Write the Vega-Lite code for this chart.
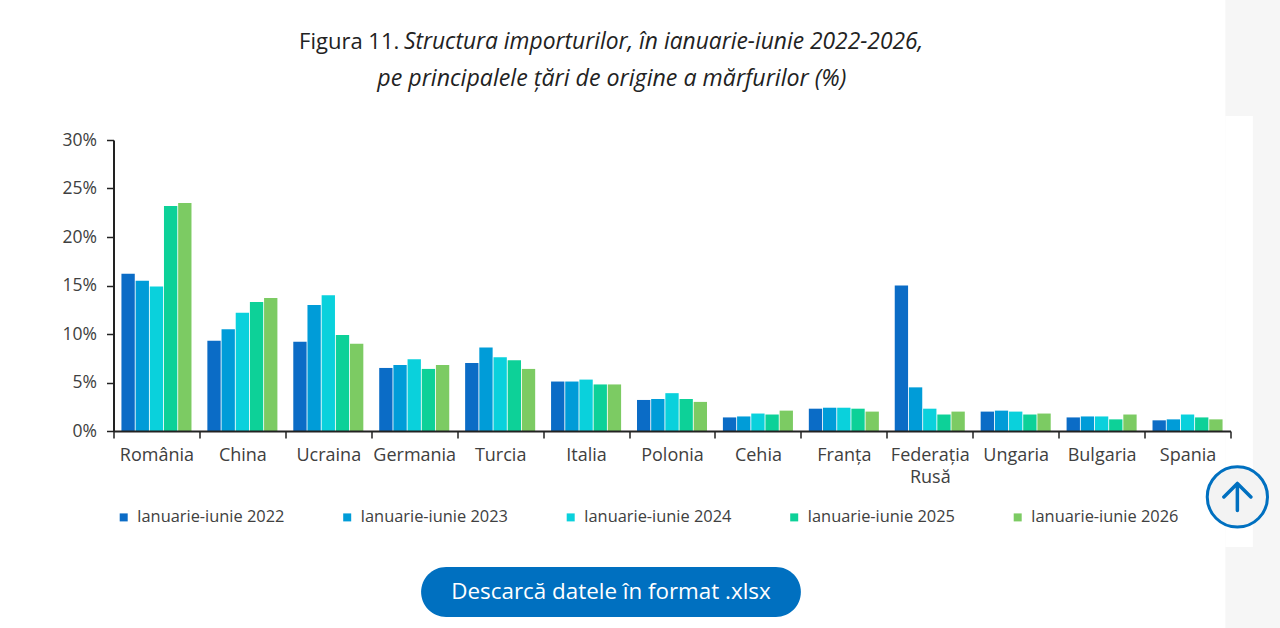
{
  "$schema": "https://vega.github.io/schema/vega-lite/v6.json",
  "background": "#ffffff",
  "width": 1117,
  "height": 291,
  "autosize": "none",
  "padding": {"left": 113.5, "top": 140, "right": 49.5, "bottom": 197},
  "config": {"font": "Open Sans", "view": {"stroke": null}},
  "resolve": {"scale": {"x": "independent"}},
  "layer": [
    {
      "data": {"values": [{}]},
      "mark": {"type": "rect", "color": "#f6f6f6"},
      "encoding": {
        "x": {"datum": 12.94, "type": "quantitative", "scale": {"domain": [0, 13], "nice": false, "zero": false}, "axis": null},
        "x2": {"datum": 13.58},
        "y": {"datum": 44.43, "type": "quantitative"},
        "y2": {"datum": -20.31}
      }
    },
    {
      "data": {"values": [{}]},
      "mark": {"type": "rect", "color": "#ffffff"},
      "encoding": {
        "x": {"datum": 12.94, "type": "quantitative", "scale": {"domain": [0, 13], "nice": false, "zero": false}, "axis": null},
        "x2": {"datum": 13.26},
        "y": {"datum": 32.47, "type": "quantitative"},
        "y2": {"datum": -11.96}
      }
    },
    {
      "data": {
        "values": [
          {"tara": "România", "an": "Ianuarie-iunie 2022", "pondere": 16.2},
          {"tara": "România", "an": "Ianuarie-iunie 2023", "pondere": 15.5},
          {"tara": "România", "an": "Ianuarie-iunie 2024", "pondere": 14.9},
          {"tara": "România", "an": "Ianuarie-iunie 2025", "pondere": 23.2},
          {"tara": "România", "an": "Ianuarie-iunie 2026", "pondere": 23.5},
          {"tara": "China", "an": "Ianuarie-iunie 2022", "pondere": 9.3},
          {"tara": "China", "an": "Ianuarie-iunie 2023", "pondere": 10.5},
          {"tara": "China", "an": "Ianuarie-iunie 2024", "pondere": 12.2},
          {"tara": "China", "an": "Ianuarie-iunie 2025", "pondere": 13.3},
          {"tara": "China", "an": "Ianuarie-iunie 2026", "pondere": 13.7},
          {"tara": "Ucraina", "an": "Ianuarie-iunie 2022", "pondere": 9.2},
          {"tara": "Ucraina", "an": "Ianuarie-iunie 2023", "pondere": 13.0},
          {"tara": "Ucraina", "an": "Ianuarie-iunie 2024", "pondere": 14.0},
          {"tara": "Ucraina", "an": "Ianuarie-iunie 2025", "pondere": 9.9},
          {"tara": "Ucraina", "an": "Ianuarie-iunie 2026", "pondere": 9.0},
          {"tara": "Germania", "an": "Ianuarie-iunie 2022", "pondere": 6.5},
          {"tara": "Germania", "an": "Ianuarie-iunie 2023", "pondere": 6.8},
          {"tara": "Germania", "an": "Ianuarie-iunie 2024", "pondere": 7.4},
          {"tara": "Germania", "an": "Ianuarie-iunie 2025", "pondere": 6.4},
          {"tara": "Germania", "an": "Ianuarie-iunie 2026", "pondere": 6.8},
          {"tara": "Turcia", "an": "Ianuarie-iunie 2022", "pondere": 7.0},
          {"tara": "Turcia", "an": "Ianuarie-iunie 2023", "pondere": 8.6},
          {"tara": "Turcia", "an": "Ianuarie-iunie 2024", "pondere": 7.6},
          {"tara": "Turcia", "an": "Ianuarie-iunie 2025", "pondere": 7.3},
          {"tara": "Turcia", "an": "Ianuarie-iunie 2026", "pondere": 6.4},
          {"tara": "Italia", "an": "Ianuarie-iunie 2022", "pondere": 5.1},
          {"tara": "Italia", "an": "Ianuarie-iunie 2023", "pondere": 5.1},
          {"tara": "Italia", "an": "Ianuarie-iunie 2024", "pondere": 5.3},
          {"tara": "Italia", "an": "Ianuarie-iunie 2025", "pondere": 4.8},
          {"tara": "Italia", "an": "Ianuarie-iunie 2026", "pondere": 4.8},
          {"tara": "Polonia", "an": "Ianuarie-iunie 2022", "pondere": 3.2},
          {"tara": "Polonia", "an": "Ianuarie-iunie 2023", "pondere": 3.3},
          {"tara": "Polonia", "an": "Ianuarie-iunie 2024", "pondere": 3.9},
          {"tara": "Polonia", "an": "Ianuarie-iunie 2025", "pondere": 3.3},
          {"tara": "Polonia", "an": "Ianuarie-iunie 2026", "pondere": 3.0},
          {"tara": "Cehia", "an": "Ianuarie-iunie 2022", "pondere": 1.4},
          {"tara": "Cehia", "an": "Ianuarie-iunie 2023", "pondere": 1.5},
          {"tara": "Cehia", "an": "Ianuarie-iunie 2024", "pondere": 1.8},
          {"tara": "Cehia", "an": "Ianuarie-iunie 2025", "pondere": 1.7},
          {"tara": "Cehia", "an": "Ianuarie-iunie 2026", "pondere": 2.1},
          {"tara": "Franța", "an": "Ianuarie-iunie 2022", "pondere": 2.3},
          {"tara": "Franța", "an": "Ianuarie-iunie 2023", "pondere": 2.4},
          {"tara": "Franța", "an": "Ianuarie-iunie 2024", "pondere": 2.4},
          {"tara": "Franța", "an": "Ianuarie-iunie 2025", "pondere": 2.3},
          {"tara": "Franța", "an": "Ianuarie-iunie 2026", "pondere": 2.0},
          {"tara": "Federația Rusă", "an": "Ianuarie-iunie 2022", "pondere": 15.0},
          {"tara": "Federația Rusă", "an": "Ianuarie-iunie 2023", "pondere": 4.5},
          {"tara": "Federația Rusă", "an": "Ianuarie-iunie 2024", "pondere": 2.3},
          {"tara": "Federația Rusă", "an": "Ianuarie-iunie 2025", "pondere": 1.7},
          {"tara": "Federația Rusă", "an": "Ianuarie-iunie 2026", "pondere": 2.0},
          {"tara": "Ungaria", "an": "Ianuarie-iunie 2022", "pondere": 2.0},
          {"tara": "Ungaria", "an": "Ianuarie-iunie 2023", "pondere": 2.1},
          {"tara": "Ungaria", "an": "Ianuarie-iunie 2024", "pondere": 2.0},
          {"tara": "Ungaria", "an": "Ianuarie-iunie 2025", "pondere": 1.7},
          {"tara": "Ungaria", "an": "Ianuarie-iunie 2026", "pondere": 1.8},
          {"tara": "Bulgaria", "an": "Ianuarie-iunie 2022", "pondere": 1.4},
          {"tara": "Bulgaria", "an": "Ianuarie-iunie 2023", "pondere": 1.5},
          {"tara": "Bulgaria", "an": "Ianuarie-iunie 2024", "pondere": 1.5},
          {"tara": "Bulgaria", "an": "Ianuarie-iunie 2025", "pondere": 1.2},
          {"tara": "Bulgaria", "an": "Ianuarie-iunie 2026", "pondere": 1.7},
          {"tara": "Spania", "an": "Ianuarie-iunie 2022", "pondere": 1.1},
          {"tara": "Spania", "an": "Ianuarie-iunie 2023", "pondere": 1.2},
          {"tara": "Spania", "an": "Ianuarie-iunie 2024", "pondere": 1.7},
          {"tara": "Spania", "an": "Ianuarie-iunie 2025", "pondere": 1.4},
          {"tara": "Spania", "an": "Ianuarie-iunie 2026", "pondere": 1.2}
        ]
      },
      "mark": {"type": "bar", "tooltip": true},
      "encoding": {
        "x": {
          "field": "tara",
          "type": "nominal",
          "sort": null,
          "title": null,
          "scale": {"paddingInner": 0, "paddingOuter": 0},
          "axis": {
            "zindex": 1,
            "labelAngle": 0,
            "labelFontSize": 18,
            "labelColor": "#404040",
            "labelPadding": 8,
            "labelLineHeight": 22,
            "labelLimit": 200,
            "labelOverlap": false,
            "labelExpr": "datum.label == 'Federația Rusă' ? ['Federația', 'Rusă'] : datum.label",
            "tickBand": "extent",
            "tickSize": 7,
            "tickWidth": 1.5,
            "tickColor": "#222222",
            "domainColor": "#222222",
            "domainWidth": 2
          }
        },
        "xOffset": {"field": "an", "type": "nominal", "scale": {"paddingInner": 0.06, "paddingOuter": 0.56}},
        "y": {
          "field": "pondere",
          "type": "quantitative",
          "title": null,
          "scale": {"domain": [0, 30], "nice": false},
          "axis": {
            "values": [0, 5, 10, 15, 20, 25, 30],
            "labelExpr": "datum.value + '%'",
            "grid": false,
            "labelFontSize": 17.5,
            "labelColor": "#404040",
            "labelPadding": 10,
            "tickSize": 7,
            "tickWidth": 1.5,
            "tickColor": "#222222",
            "domainColor": "#222222",
            "domainWidth": 2
          }
        },
        "color": {
          "field": "an",
          "type": "nominal",
          "scale": {"range": ["#0b6cc6", "#009cd8", "#0ad1dc", "#0dd198", "#7ccb63"]},
          "legend": {
            "title": null,
            "orient": "none",
            "legendX": 2,
            "legendY": 369,
            "direction": "horizontal",
            "columns": 5,
            "symbolType": "square",
            "symbolSize": 64,
            "labelFontSize": 16.4,
            "labelColor": "#404040",
            "labelOffset": 5,
            "columnPadding": 54.5
          }
        }
      }
    },
    {
      "data": {"values": [{}]},
      "mark": {"type": "rect", "color": "#0070c0", "cornerRadius": 25},
      "encoding": {
        "x": {"datum": 3.58, "type": "quantitative", "scale": {"domain": [0, 13], "nice": false, "zero": false}, "axis": null},
        "x2": {"datum": 8.0},
        "y": {"datum": -14.02, "type": "quantitative"},
        "y2": {"datum": -19.18}
      }
    },
    {
      "data": {"values": [{}]},
      "mark": {"type": "text", "color": "#ffffff", "fontSize": 22.4, "text": "Descarcă datele în format .xlsx"},
      "encoding": {
        "x": {"datum": 5.79, "type": "quantitative", "scale": {"domain": [0, 13], "nice": false, "zero": false}, "axis": null},
        "y": {"datum": -16.6, "type": "quantitative"}
      }
    },
    {
      "data": {"values": [{}]},
      "mark": {"type": "text", "color": "#222222", "fontSize": 22, "align": "left", "text": "Figura 11."},
      "encoding": {
        "x": {"datum": 2.16, "type": "quantitative", "scale": {"domain": [0, 13], "nice": false, "zero": false}, "axis": null},
        "y": {"datum": 40.1, "type": "quantitative"}
      }
    },
    {
      "data": {"values": [{}]},
      "mark": {"type": "text", "color": "#222222", "fontSize": 22.8, "fontStyle": "italic", "align": "left", "text": "Structura importurilor, în ianuarie-iunie 2022-2026,"},
      "encoding": {
        "x": {"datum": 3.38, "type": "quantitative", "scale": {"domain": [0, 13], "nice": false, "zero": false}, "axis": null},
        "y": {"datum": 40.1, "type": "quantitative"}
      }
    },
    {
      "data": {"values": [{}]},
      "mark": {"type": "text", "color": "#222222", "fontSize": 23.2, "fontStyle": "italic", "text": "pe principalele țări de origine a mărfurilor (%)"},
      "encoding": {
        "x": {"datum": 5.8, "type": "quantitative", "scale": {"domain": [0, 13], "nice": false, "zero": false}, "axis": null},
        "y": {"datum": 36.3, "type": "quantitative"}
      }
    },
    {
      "data": {"values": [{}]},
      "mark": {"type": "point", "shape": "circle", "size": 3632, "filled": true, "fill": "#f3f3f3", "stroke": "#0070c0", "strokeWidth": 3, "opacity": 1},
      "encoding": {
        "x": {"datum": 13.08, "type": "quantitative", "scale": {"domain": [0, 13], "nice": false, "zero": false}, "axis": null},
        "y": {"datum": -6.8, "type": "quantitative"}
      }
    },
    {
      "data": {"values": [{}]},
      "mark": {"type": "point", "shape": "M0,-1L0,1M-1,0L0,-1L1,0", "size": 729, "filled": false, "stroke": "#0070c0", "strokeWidth": 3.5, "strokeCap": "round", "strokeJoin": "round", "opacity": 1},
      "encoding": {
        "x": {"datum": 13.08, "type": "quantitative", "scale": {"domain": [0, 13], "nice": false, "zero": false}, "axis": null},
        "y": {"datum": -6.8, "type": "quantitative"}
      }
    }
  ]
}
